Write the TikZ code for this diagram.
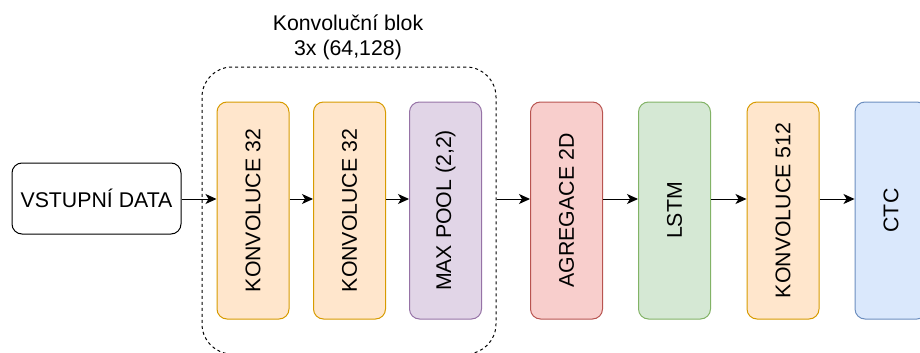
\documentclass[tikz,border=0pt]{standalone}
\usepackage{fontspec, graphicx, xcolor}
\setmainfont{Liberation Sans}
\usetikzlibrary{arrows.meta}

\definecolor{orfill}{HTML}{FFE6CC}
\definecolor{ordraw}{HTML}{D79B00}
\definecolor{pufill}{HTML}{E1D5E7}
\definecolor{pudraw}{HTML}{9673A6}
\definecolor{refill}{HTML}{F8CECC}
\definecolor{redraw}{HTML}{B85450}
\definecolor{grfill}{HTML}{D5E8D4}
\definecolor{grdraw}{HTML}{82B366}
\definecolor{blfill}{HTML}{DAE8FC}
\definecolor{bldraw}{HTML}{6C8EBF}

\tikzset{
    layer/.style = {draw, rounded corners=10pt, line width=1pt,
        minimum width=72pt, minimum height=217pt, inner sep=0pt},
    flow/.style = {-{Stealth[length=11pt, width=10pt, inset=3pt]}, line width=1pt}
}

\begin{document}
\begin{tikzpicture}[x=1pt, y=-1pt, font=\fontsize{21.3}{25}\selectfont]
    \clip (0,0) rectangle (920,353);
    \coordinate (lvl) at (0,199);

    \node [draw, dashed, rounded corners=30pt, line width=1pt,
        minimum width=294pt, minimum height=287pt] (blok) at (349,210.5) {};
    \node [align=center] (blokname) at (348,37) {Konvoluční blok\\3x (64,128)};

    \node [draw, rounded corners=10pt, line width=1pt,
        minimum width=169pt, minimum height=71pt] (vstup) at (96.5,198.5) {VSTUPNÍ DATA};
    \node [layer, fill=orfill, draw=ordraw] (konv1) at (253,210.5) {\rotatebox{90}{KONVOLUCE 32}};
    \node [layer, fill=orfill, draw=ordraw] (konv2) at (349.5,210.5) {\rotatebox{90}{KONVOLUCE 32}};
    \node [layer, fill=pufill, draw=pudraw] (pool) at (445.5,210.5) {\rotatebox{90}{MAX POOL (2,2)}};
    \node [layer, fill=refill, draw=redraw] (agr) at (566.5,210.5) {\rotatebox{90}{AGREGACE 2D}};
    \node [layer, fill=grfill, draw=grdraw] (lstm) at (674.5,210.5) {\rotatebox{90}{LSTM}};
    \node [layer, fill=orfill, draw=ordraw] (konv3) at (783,210.5) {\rotatebox{90}{KONVOLUCE 512}};
    \node [layer, fill=blfill, draw=bldraw] (ctc) at (891,210.5) {\rotatebox{90}{CTC}};

    \draw [flow] (vstup.east |- lvl) -- (konv1.west |- lvl);
    \draw [flow] (konv1.east |- lvl) -- (konv2.west |- lvl);
    \draw [flow] (konv2.east |- lvl) -- (pool.west |- lvl);
    \draw [flow] (blok.east |- lvl) -- (agr.west |- lvl);
    \draw [flow] (agr.east |- lvl) -- (lstm.west |- lvl);
    \draw [flow] (lstm.east |- lvl) -- (konv3.west |- lvl);
    \draw [flow] (konv3.east |- lvl) -- (ctc.west |- lvl);
\end{tikzpicture}
\end{document}
